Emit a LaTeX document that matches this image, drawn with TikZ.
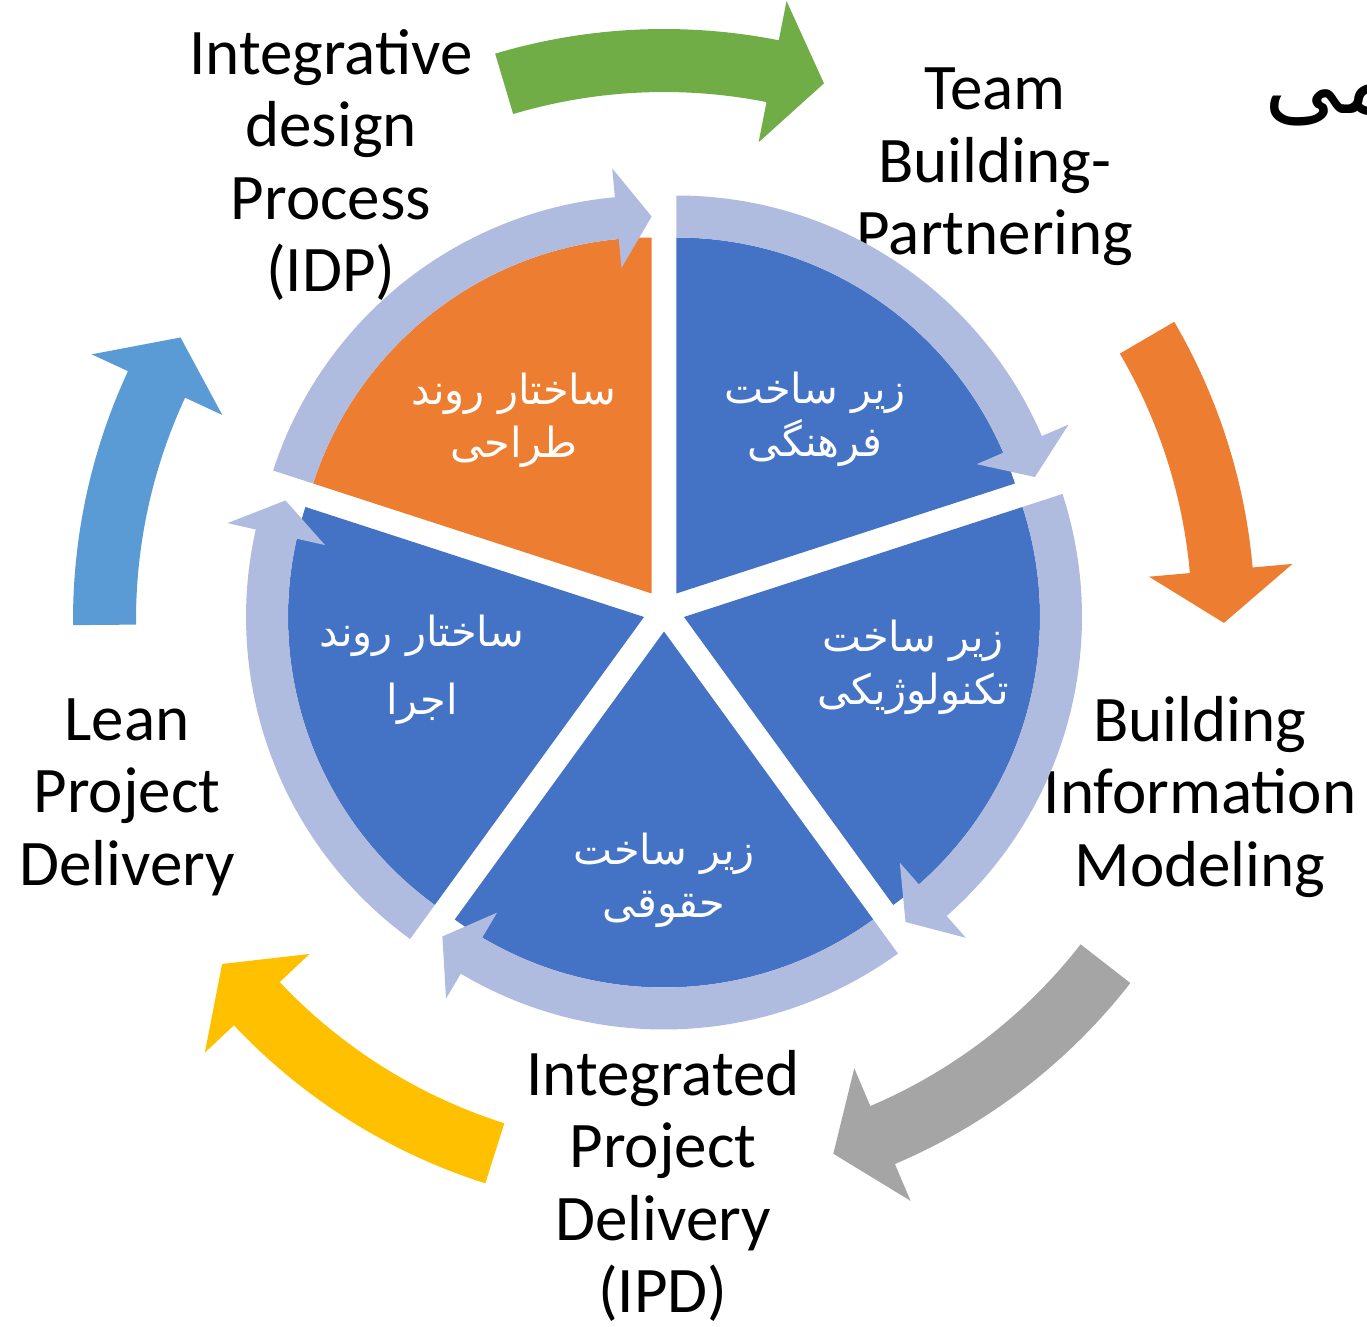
\documentclass[tikz,border=0pt]{standalone}
\usepackage{fontspec}
\setmainfont{Carlito}
\newfontfamily\arabicfont[Script=Arabic]{DejaVu Sans}
\TeXXeTstate=1
\definecolor{pieblue}{HTML}{4472C4}
\definecolor{pieorange}{HTML}{ED7D31}
\definecolor{ringblue}{HTML}{AFBBDF}
\definecolor{arrgreen}{HTML}{70AD47}
\definecolor{arrorange}{HTML}{ED7D31}
\definecolor{arrgray}{HTML}{A5A5A5}
\definecolor{arryellow}{HTML}{FFC000}
\definecolor{arrblue}{HTML}{5B9BD5}
\tikzset{
  engtext/.style={align=center, inner sep=0pt, font=\fontsize{18.5}{20.6}\selectfont},
  fatext/.style={align=center, inner sep=0pt, text=white, font=\arabicfont\fontsize{11.8}{15}\selectfont},
}
\begin{document}
\begin{tikzpicture}
\useasboundingbox (0,0) rectangle (13.67,13.27);

% english labels
\node[engtext] (idp) at (3.31,11.62) {Integrative\\design\\Process\\(IDP)};
\node[engtext] (team) at (9.95,11.60) {Team\\Building-\\Partnering};
\node[engtext] (bim) at (12.00,5.30) {Building\\Information\\Modeling};
\node[engtext] (ipd) at (6.63,1.41) {Integrated\\Project\\Delivery\\(IPD)};
\node[engtext] (lean) at (1.27,5.30) {Lean\\Project\\Delivery};
\node[anchor=west, inner sep=0pt, font=\arabicfont\fontsize{27}{30}\selectfont] (title) at (12.64,12.30) {\beginR سیستمی\endR};

% pie with ring arrows
\begin{scope}[shift={(6.64,7.165)}]
  \foreach \e/\col in {90/pieorange, 18/pieblue, -54/pieblue, -126/pieblue, -198/pieblue} {
    \begin{scope}[shift={(\e+36:0.21)}]
      \fill[\col] (0,0) -- (\e+72:3.56) arc[start angle=\e+72, end angle=\e, radius=3.56] -- cycle;
      \fill[ringblue] (\e+72:3.98) arc[start angle=\e+72, end angle=\e+5.3, radius=3.98]
        -- (\e+5.3:4.27) -- (\e:3.77) -- (\e+5.3:3.27) -- (\e+5.3:3.56)
        arc[start angle=\e+5.3, end angle=\e+72, radius=3.56] -- cycle;
    \end{scope}
  }
\end{scope}

% outer arrows
\begin{scope}[shift={(6.64,7.07)}]
  \foreach \s/\t/\col in {106.6/73.4/arrgreen, 30.3/-0.3/arrorange, -37.9/-72.4/arrgray, -107.6/-142.1/arryellow, 180.5/149.7/arrblue} {
    \fill[\col] (\s:5.91) arc[start angle=\s, end angle=\t+5.4, radius=5.91]
      -- (\t+5.4:6.31) -- (\t:5.6) -- (\t+5.4:4.87) -- (\t+5.4:5.28)
      arc[start angle=\t+5.4, end angle=\s, radius=5.28] -- cycle;
  }
\end{scope}

% persian labels
\node[fatext] (design) at (5.14,9.07) {\beginR ساختار روند\endR\\\beginR طراحی\endR};
\node[fatext] (culture) at (8.15,9.08) {\beginR زیر ساخت\endR\\\beginR فرهنگی\endR};
\node[fatext] (tech) at (9.13,6.60) {\beginR زیر ساخت\endR\\\beginR تکنولوژیکی\endR};
\node[fatext] (legal) at (6.64,4.47) {\beginR زیر ساخت\endR\\\beginR حقوقی\endR};
\node[fatext] (exec) at (4.22,6.57) {\beginR ساختار روند\endR\\[0.15cm]\beginR اجرا\endR};
\end{tikzpicture}
\end{document}
